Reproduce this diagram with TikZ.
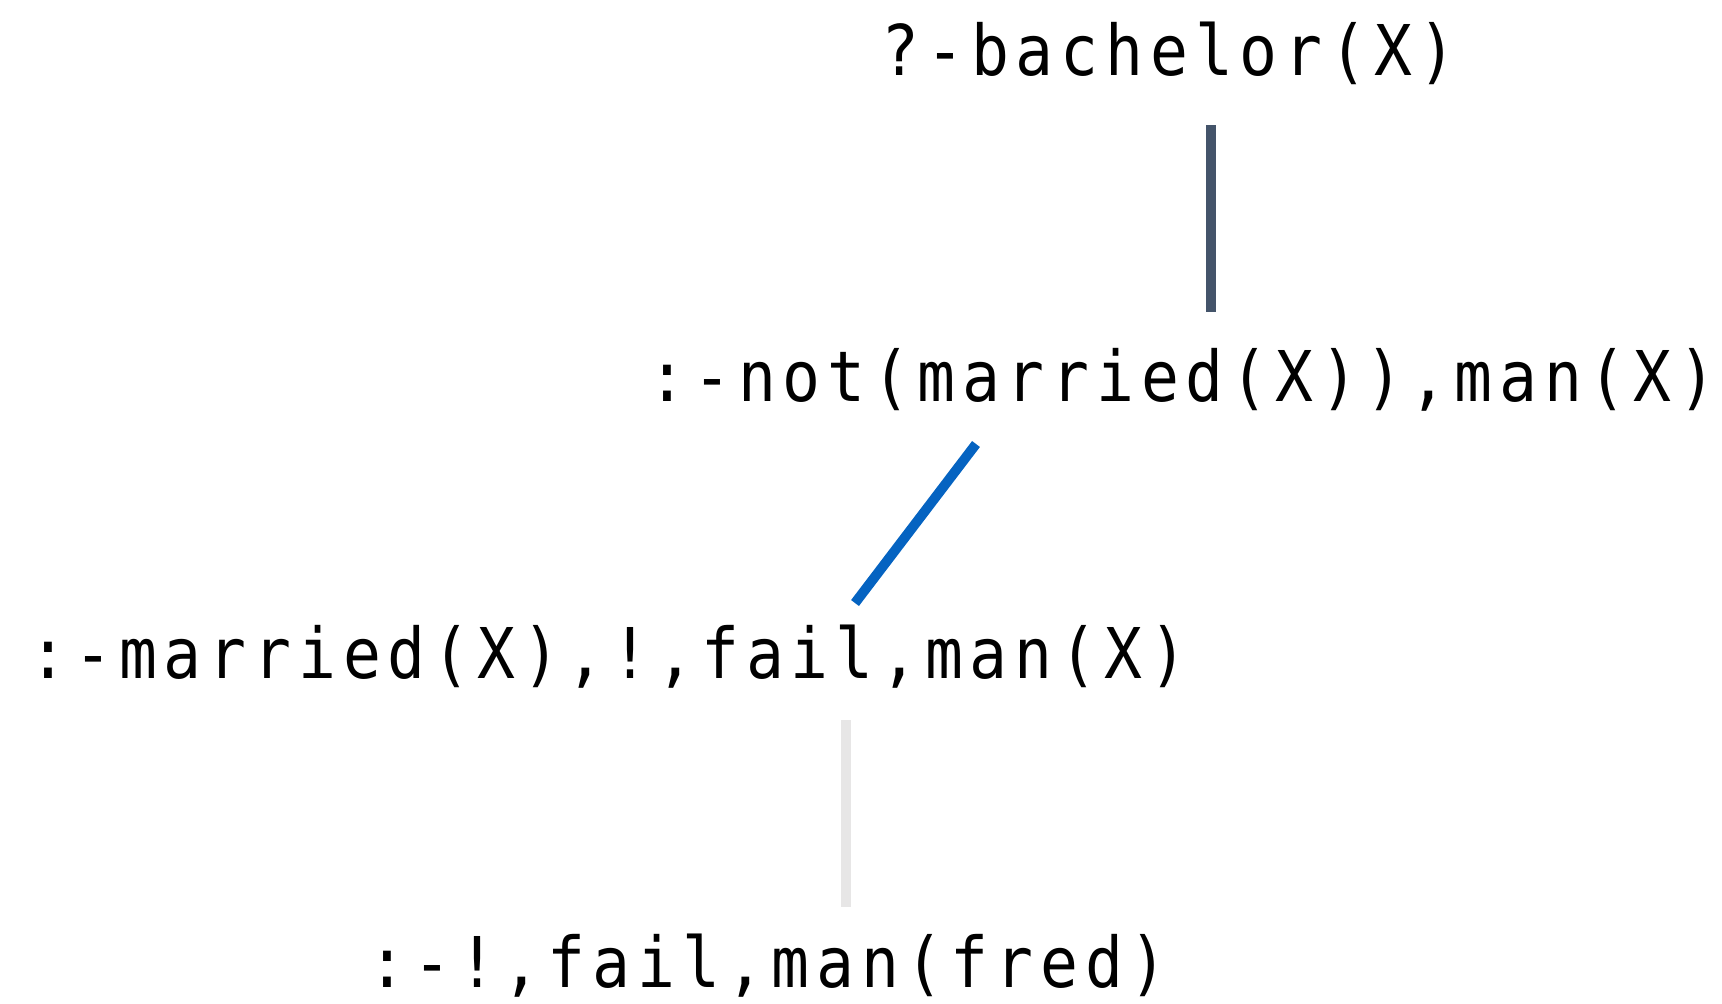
\documentclass[tikz,border=0pt]{standalone}
\usepackage{fontspec}
\usetikzlibrary{calc}
\newfontfamily\codefont[FakeStretch=0.9,LetterSpace=9.8]{DejaVu Sans Mono}
\definecolor{slateline}{HTML}{44546A}
\definecolor{blueline}{HTML}{0563C1}
\definecolor{greyline}{HTML}{E7E6E6}
\begin{document}
\begin{tikzpicture}[x=0.01cm,y=-0.01cm,
  goal/.style={font=\codefont\fontsize{19.9}{24}\selectfont, inner sep=0pt, anchor=base west},
  link/.style={line width=2.8pt}]
\useasboundingbox (0,0) rectangle (1722,1003);
% resolution goals
\node[goal] (g1) at (881,75)  {?-bachelor(X)};
\node[goal] (g2) at (648,401) {:-not(married(X)),man(X)};
\node[goal] (g3) at (29,678)  {:-married(X),!,fail,man(X)};
\node[goal] (g4) at (368,987) {:-!,fail,man(fred)};
% derivation steps
\draw[link, slateline] ($(g1.base west)+(330,50)$) -- ($(g2.base west)+(563,-89)$);
\draw[link, blueline]  ($(g2.base west)+(328,43)$) -- ($(g3.base west)+(826,-75)$);
\draw[link, greyline]  ($(g3.base west)+(817,42)$) -- ($(g4.base west)+(478,-80)$);
\end{tikzpicture}
\end{document}
